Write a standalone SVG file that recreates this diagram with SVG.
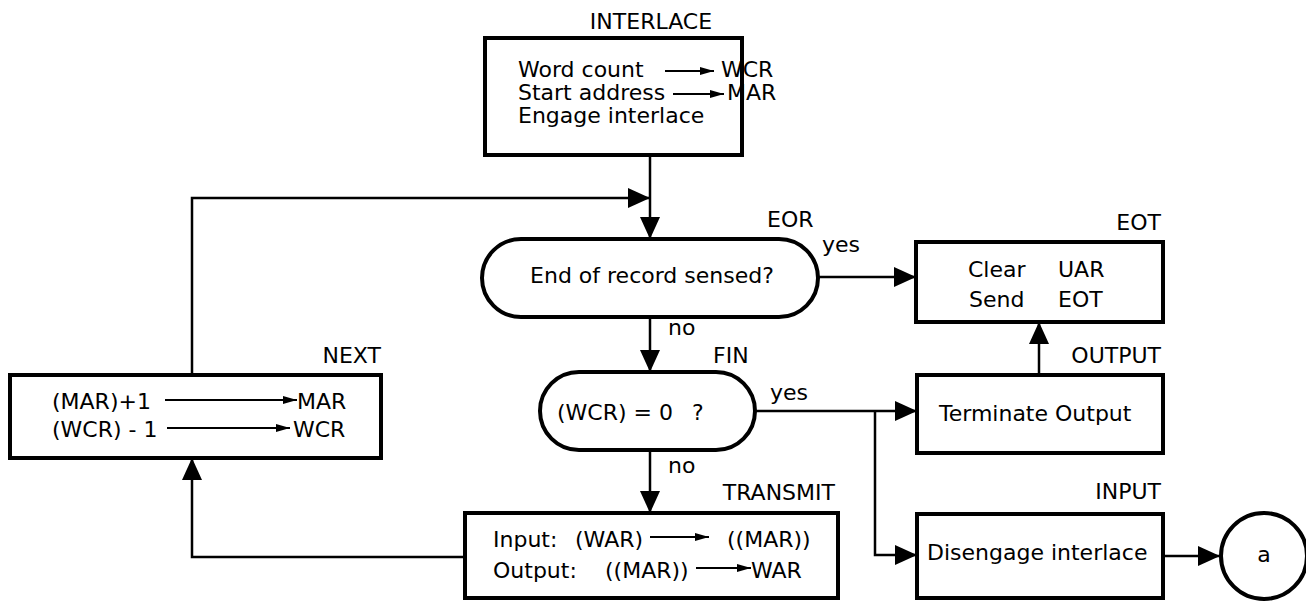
<svg xmlns="http://www.w3.org/2000/svg" width="1306" height="601" viewBox="0 0 1306 601">
<style>
text{font-family:"DejaVu Sans","Liberation Sans",sans-serif;font-size:22px;fill:#000}
.box{fill:#fff;stroke:#000;stroke-width:4}
.conn{fill:none;stroke:#000;stroke-width:2.5}
.ia{fill:none;stroke:#000;stroke-width:2}
.m{text-anchor:middle}
.e{text-anchor:end}
</style>
<defs>
<marker id="ah" viewBox="0 0 22 20" refX="22" refY="10" markerWidth="22" markerHeight="20" markerUnits="userSpaceOnUse" orient="auto">
<path d="M0,0 L22,10 L0,20 Z" fill="#000"/>
</marker>
<marker id="sa" viewBox="0 0 14 8" refX="14" refY="4" markerWidth="14" markerHeight="8" markerUnits="userSpaceOnUse" orient="auto">
<path d="M0,0 L14,4 L0,8 Z" fill="#000"/>
</marker>
</defs>
<rect width="1306" height="601" fill="#fff"/>
<g id="connectors">
<path class="conn" d="M650,155 L650,239" marker-end="url(#ah)"/>
<path class="conn" d="M192,376 L192,198 L650,198" marker-end="url(#ah)"/>
<path class="conn" d="M818,277 L916,277" marker-end="url(#ah)"/>
<path class="conn" d="M650,317 L650,372" marker-end="url(#ah)"/>
<path class="conn" d="M755,411 L917,411" marker-end="url(#ah)"/>
<path class="conn" d="M875,411 L875,555 L917,555" marker-end="url(#ah)"/>
<path class="conn" d="M650,450 L650,513" marker-end="url(#ah)"/>
<path class="conn" d="M465,557 L192,557 L192,458" marker-end="url(#ah)"/>
<path class="conn" d="M1039,375 L1039,322" marker-end="url(#ah)"/>
<path class="conn" d="M1163,556 L1220,556" marker-end="url(#ah)"/>
<text x="822" y="252">yes</text>
<text x="770" y="400">yes</text>
<text x="668" y="335">no</text>
<text x="668" y="473">no</text>
</g>
<g id="interlace">
<text class="m" x="651" y="29">INTERLACE</text>
<rect class="box" x="485" y="38" width="257" height="117"/>
<text x="518" y="77">Word count</text>
<line class="ia" x1="665" y1="71" x2="714" y2="71" marker-end="url(#sa)"/>
<text x="721" y="77">WCR</text>
<text x="518" y="100">Start address</text>
<line class="ia" x1="673" y1="94" x2="724" y2="94" marker-end="url(#sa)"/>
<text x="727" y="100">MAR</text>
<text x="518" y="123">Engage interlace</text>
</g>
<g id="eor">
<text x="767" y="227">EOR</text>
<rect class="box" x="482" y="239" width="336" height="78" rx="39" ry="39"/>
<text class="m" x="652" y="283">End of record sensed?</text>
</g>
<g id="fin">
<text x="713" y="363">FIN</text>
<rect class="box" x="540" y="372" width="215" height="78" rx="39" ry="39"/>
<text x="557" y="420">(WCR) = 0</text>
<text x="692" y="420">?</text>
</g>
<g id="transmit">
<text class="e" x="835" y="500">TRANSMIT</text>
<rect class="box" x="465" y="513" width="373" height="85"/>
<text x="493" y="547">Input:</text>
<text x="575" y="547">(WAR)</text>
<line class="ia" x1="650" y1="537" x2="709" y2="537" marker-end="url(#sa)"/>
<text x="727" y="547">((MAR))</text>
<text x="493" y="578">Output:</text>
<text x="605" y="578">((MAR))</text>
<line class="ia" x1="696" y1="568" x2="751" y2="568" marker-end="url(#sa)"/>
<text x="751" y="578">WAR</text>
</g>
<g id="next">
<text class="e" x="381" y="363">NEXT</text>
<rect class="box" x="10" y="375" width="371" height="83"/>
<text x="52" y="409">(MAR)+1</text>
<line class="ia" x1="165" y1="400" x2="297" y2="400" marker-end="url(#sa)"/>
<text x="297" y="409">MAR</text>
<text x="52" y="437">(WCR) - 1</text>
<line class="ia" x1="167" y1="428" x2="290" y2="428" marker-end="url(#sa)"/>
<text x="293" y="437">WCR</text>
</g>
<g id="eot">
<text class="e" x="1161" y="230">EOT</text>
<rect class="box" x="916" y="242" width="247" height="80"/>
<text x="968" y="277">Clear</text>
<text x="1058" y="277">UAR</text>
<text x="969" y="307">Send</text>
<text x="1058" y="307">EOT</text>
</g>
<g id="output">
<text class="e" x="1161" y="363">OUTPUT</text>
<rect class="box" x="917" y="375" width="246" height="78"/>
<text x="939" y="421">Terminate Output</text>
</g>
<g id="input">
<text class="e" x="1161" y="499">INPUT</text>
<rect class="box" x="917" y="514" width="246" height="84"/>
<text x="927" y="560">Disengage interlace</text>
</g>
<g id="a">
<circle cx="1264" cy="556" r="43" fill="#fff" stroke="#000" stroke-width="4"/>
<text class="m" x="1264" y="562">a</text>
</g>
</svg>
